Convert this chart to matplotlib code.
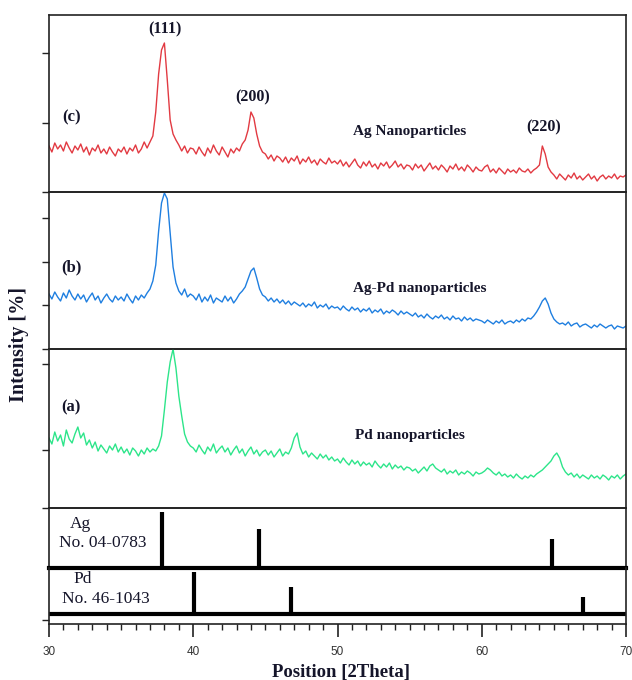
import numpy as np
import matplotlib
matplotlib.use("Agg")
import matplotlib.pyplot as plt
from matplotlib.ticker import MultipleLocator

# ---------------- data ----------------
two_theta = np.round(np.arange(30.0, 70.0001, 0.2), 1)

# (c) Ag nanoparticles
ag_np = [
    46, 40, 49, 43, 47, 41, 50, 44, 39, 46, 42, 48, 40, 45, 37, 44, 41, 47, 39, 43, 38, 45, 40, 36, 43,
    40, 45, 38, 44, 41, 47, 39, 43, 50, 44, 50, 56, 80, 118, 142, 149, 112, 72, 58, 52, 47, 41, 46, 39, 44,
    43, 38, 45, 40, 36, 44, 39, 47, 41, 37, 45, 40, 35, 43, 39, 44, 41, 48, 52, 62, 80, 74, 58, 46, 40,
    38, 33, 37, 31, 36, 34, 30, 35, 29, 34, 31, 36, 28, 33, 30, 35, 29, 32, 27, 33, 30, 28, 34, 29, 31,
    28, 32, 26, 30, 25, 29, 33, 27, 24, 30, 26, 31, 25, 28, 23, 29, 26, 30, 24, 27, 31, 25, 28, 23, 27,
    26, 22, 28, 24, 27, 21, 25, 29, 23, 26, 22, 27, 24, 20, 26, 23, 28, 22, 25, 21, 27, 24, 20, 25, 22,
    21, 25, 27, 20, 23, 19, 24, 21, 18, 23, 20, 22, 19, 24, 21, 20, 23, 19, 22, 24, 27, 46, 38, 25, 20,
    17, 13, 18, 15, 12, 17, 14, 19, 13, 16, 12, 15, 18, 13, 16, 11, 15, 17, 13, 16, 14, 18, 13, 16, 15, 17,
]

# (b) Ag-Pd nanoparticles
agpd_np = [
    55, 50, 57, 52, 48, 56, 51, 59, 53, 49, 55, 50, 54, 47, 52, 56, 49, 53, 46, 51, 55, 50, 47, 53, 49,
    52, 48, 55, 50, 46, 53, 49, 54, 51, 56, 60, 68, 84, 118, 146, 156, 150, 116, 82, 66, 58, 54, 60, 52, 55,
    53, 49, 55, 47, 52, 48, 54, 46, 51, 49, 47, 53, 48, 52, 46, 50, 55, 58, 62, 70, 78, 81, 71, 60, 54,
    52, 48, 51, 47, 50, 46, 49, 45, 48, 44, 47, 45, 43, 46, 42, 45, 43, 47, 41, 44, 42, 45, 40, 43, 41,
    42, 39, 43, 40, 38, 42, 39, 41, 37, 40, 38, 41, 36, 39, 37, 40, 35, 38, 36, 39, 37, 34, 38, 35, 37,
    35, 33, 36, 32, 34, 31, 35, 32, 30, 33, 31, 34, 30, 32, 29, 33, 30, 31, 28, 32, 29, 31, 28, 30, 29,
    28, 26, 29, 27, 25, 28, 26, 29, 25, 27, 28, 26, 29, 27, 30, 28, 31, 30, 33, 37, 42, 48, 51, 45, 36,
    30, 27, 25, 26, 24, 27, 23, 25, 26, 22, 24, 25, 23, 21, 24, 22, 25, 23, 21, 23, 24, 20, 23, 22, 21, 23,
]

# (a) Pd nanoparticles
pd_np = [
    70, 64, 76, 67, 73, 62, 78, 69, 65, 74, 81, 70, 75, 63, 68, 60, 66, 57, 63, 59, 55, 62, 58, 64, 56,
    61, 55, 59, 53, 60, 57, 52, 58, 54, 60, 56, 59, 57, 62, 72, 98, 126, 146, 159, 140, 112, 92, 74, 66, 62,
    60, 56, 63, 58, 54, 61, 57, 64, 55, 59, 62, 56, 60, 53, 58, 62, 55, 59, 52, 57, 61, 54, 58, 52, 56,
    58, 53, 57, 51, 55, 59, 52, 56, 54, 60, 70, 75, 61, 54, 57, 51, 55, 52, 49, 54, 50, 53, 48, 51, 47,
    49, 45, 50, 46, 43, 48, 44, 47, 42, 46, 43, 45, 41, 47, 43, 40, 44, 41, 45, 39, 43, 40, 42, 38, 41,
    40, 37, 39, 35, 38, 41, 37, 42, 44, 40, 38, 36, 39, 34, 37, 35, 38, 33, 36, 34, 37, 35, 32, 36, 34,
    35, 37, 40, 38, 35, 33, 36, 32, 34, 31, 33, 30, 34, 31, 29, 32, 30, 33, 31, 34, 36, 38, 41, 44, 47,
    52, 55, 50, 41, 36, 33, 35, 31, 34, 30, 33, 31, 29, 33, 30, 32, 29, 33, 31, 28, 32, 30, 33, 29, 32, 34,
]

# reference patterns (stick positions and heights)
ag_ref_pos = [37.85, 44.55, 64.85]
ag_ref_int = [56, 39, 29]
pd_ref_pos = [40.05, 46.8, 67.0]
pd_ref_int = [42, 27, 17]

x_ticks = [30, 40, 50, 60, 70]

# ---------------- figure ----------------
W, H = 632, 680
fig = plt.figure(figsize=(W / 100, H / 100), dpi=100)

SERIF = ["Liberation Serif", "DejaVu Serif"]
left_px, right_px = 49, 626


def add_ax(top_px, bot_px):
    return fig.add_axes([left_px / W, 1 - bot_px / H,
                         (right_px - left_px) / W, (bot_px - top_px) / H])


ax_c = add_ax(15, 192)
ax_b = add_ax(192, 349)
ax_a = add_ax(349, 508)
ax_ag = add_ax(508, 568)
ax_pd = add_ax(568, 624)

axes = [ax_c, ax_b, ax_a, ax_ag, ax_pd]
for ax in axes:
    ax.set_xlim(30, 70)
    ax.set_facecolor("none")
    for s in ax.spines.values():
        s.set_color("#222222")
        s.set_linewidth(1.2)
    ax.tick_params(axis="y", direction="out", length=5, width=1.0,
                   labelleft=False, color="#222222")
    ax.tick_params(axis="x", which="both", bottom=False, labelbottom=False)

red, blue, green = "#e23a42", "#1f7fe0", "#2de58a"

ax_c.plot(two_theta, ag_np, color=red, lw=1.0)
ax_c.set_ylim(0, 177)
ax_c.set_yticks([0, 69, 139])

ax_b.plot(two_theta, agpd_np, color=blue, lw=1.0)
ax_b.set_ylim(0, 157)
ax_b.set_yticks([0, 44, 87, 131])

ax_a.plot(two_theta, pd_np, color=green, lw=1.0)
ax_a.set_ylim(0, 159)
ax_a.set_yticks([0, 58, 144])

ax_ag.vlines(ag_ref_pos, 0, ag_ref_int, color="black", lw=3)
ax_ag.set_ylim(0, 60)
ax_ag.set_yticks([])
ax_ag.spines["bottom"].set_linewidth(3)
ax_ag.spines["bottom"].set_color("black")

ax_pd.vlines(pd_ref_pos, 0, pd_ref_int, color="black", lw=3)
ax_pd.axhline(0, color="black", lw=3)
ax_pd.set_ylim(-10, 46)
ax_pd.set_yticks([-6])
ax_pd.spines["top"].set_visible(False)
ax_pd.tick_params(axis="x", which="both", bottom=True, labelbottom=True,
                  direction="out", color="#222222", labelcolor="#333333",
                  labelsize=8.5)
ax_pd.tick_params(axis="x", which="major", length=9, width=1.2, pad=7)
ax_pd.tick_params(axis="x", which="minor", length=4, width=1.0)
ax_pd.set_xticks(x_ticks)
ax_pd.xaxis.set_minor_locator(MultipleLocator(1))
for lbl in ax_pd.get_xticklabels():
    lbl.set_family(["Liberation Sans Narrow", "Liberation Sans", "DejaVu Sans"])

# ---------------- texts ----------------
txt_col = "#15152a"
bold = dict(family=SERIF, weight="bold", color=txt_col, ha="center", va="center")

ax_c.text(38.05, 163, "(111)", fontsize=11.5, **bold)
ax_c.text(44.1, 95, "(200)", fontsize=11.5, **bold)
ax_c.text(64.3, 65, "(220)", fontsize=11.5, **bold)
ax_c.text(31.55, 75, "(c)", fontsize=12, **bold)
ax_c.text(55.0, 61, "Ag Nanoparticles", fontsize=11, **bold)

ax_b.text(31.55, 82, "(b)", fontsize=12, **bold)
ax_b.text(55.7, 60, "Ag-Pd nanoparticles", fontsize=11, **bold)

ax_a.text(31.55, 101, "(a)", fontsize=12, **bold)
ax_a.text(55.0, 73, "Pd nanoparticles", fontsize=11, **bold)

reg = dict(family=SERIF, color=txt_col, ha="center", va="center", fontsize=12.5)
ax_ag.text(32.2, 44, "Ag", **reg)
ax_ag.text(33.75, 25, "No. 04-0783", **reg)
ax_pd.text(32.35, 35, "Pd", **reg)
ax_pd.text(33.95, 15, "No. 46-1043", **reg)

fig.text(341 / W, 1 - 672 / H, "Position [2Theta]", fontsize=13.5,
         family=SERIF, weight="bold", color=txt_col, ha="center", va="center")
fig.text(19 / W, 1 - 344 / H, "Intensity [%]", fontsize=14.5, rotation=90,
         family=SERIF, weight="bold", color=txt_col, ha="center", va="center")

fig.savefig("out.png", dpi=100, facecolor="white")
